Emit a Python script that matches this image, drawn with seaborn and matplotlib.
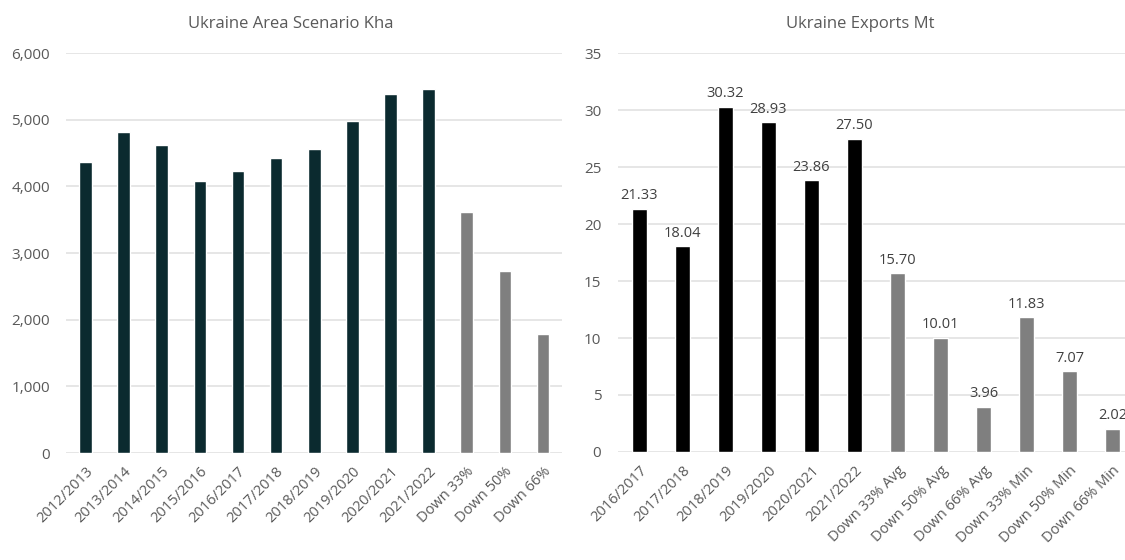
import matplotlib
matplotlib.use("Agg")
import matplotlib.pyplot as plt
import seaborn as sns
import pandas as pd

# Area scenario (thousand hectares)
area_labels = ["2012/2013", "2013/2014", "2014/2015", "2015/2016", "2016/2017",
               "2017/2018", "2018/2019", "2019/2020", "2020/2021", "2021/2022",
               "Down 33%", "Down 50%", "Down 66%"]
area_values = [4365, 4820, 4620, 4080, 4230, 4430, 4560, 4990, 5385, 5460,
               3610, 2735, 1790]
area_is_scenario = [False] * 10 + [True] * 3

# Exports (million tonnes)
export_labels = ["2016/2017", "2017/2018", "2018/2019", "2019/2020", "2020/2021",
                 "2021/2022", "Down 33% Avg", "Down 50% Avg", "Down 66% Avg",
                 "Down 33% Min", "Down 50% Min", "Down 66% Min"]
export_values = [21.33, 18.04, 30.32, 28.93, 23.86, 27.50,
                 15.70, 10.01, 3.96, 11.83, 7.07, 2.02]
export_is_scenario = [False] * 6 + [True] * 6

sns.set_theme(style="white")
plt.rcParams["font.family"] = ["Open Sans", "DejaVu Sans"]

TEXT = "#595959"
GRID = "#E2E2E2"
GREY = "#7F7F7F"

fig = plt.figure(figsize=(11.25, 5.6), dpi=100)
ax1 = fig.add_axes([0.0591, 0.191, 0.4405, 0.714])
ax2 = fig.add_axes([0.5493, 0.193, 0.4587, 0.712])


def draw(ax, labels, values, scenario, base_color, ymax, ystep, fmt, annotate):
    df = pd.DataFrame({"label": labels, "value": values})
    palette = {lab: (GREY if sc else base_color) for lab, sc in zip(labels, scenario)}
    sns.barplot(data=df, x="label", y="value", hue="label", palette=palette,
                order=labels, hue_order=labels, width=0.33, legend=False,
                saturation=1, ax=ax, zorder=3)
    ax.set_xlim(-0.5, len(labels) - 0.5)
    ax.set_ylim(0, ymax)
    ticks = list(range(0, ymax + 1, ystep))
    ax.set_yticks(ticks)
    ax.set_yticklabels([fmt(t) for t in ticks], color=TEXT, fontsize=11)
    ax.set_xticks(range(len(labels)))
    ax.set_xticklabels(labels, rotation=45, ha="right", rotation_mode="anchor",
                       color=TEXT, fontsize=10.5)
    ax.tick_params(axis="both", length=0)
    ax.tick_params(axis="x", pad=8)
    ax.tick_params(axis="y", pad=12)
    ax.grid(axis="y", color=GRID, linewidth=1.2, zorder=0)
    ax.set_axisbelow(True)
    for s in ax.spines.values():
        s.set_visible(False)
    ax.set_xlabel("")
    ax.set_ylabel("")
    if annotate:
        for container in ax.containers:
            ax.bar_label(container, fmt="%.2f", padding=4, color="#404040",
                         fontsize=10.5)


draw(ax1, area_labels, area_values, area_is_scenario, "#0B2A2F", 6000, 1000,
     lambda t: f"{t:,}", False)
draw(ax2, export_labels, export_values, export_is_scenario, "#000000", 35, 5,
     lambda t: f"{t}", True)

fig.text(0.258, 0.958, "Ukraine Area Scenario Kha", ha="center", va="center",
         color=TEXT, fontsize=12)
fig.text(0.765, 0.958, "Ukraine Exports Mt", ha="center", va="center",
         color=TEXT, fontsize=12)

fig.savefig("out.png", dpi=100, facecolor="white")
